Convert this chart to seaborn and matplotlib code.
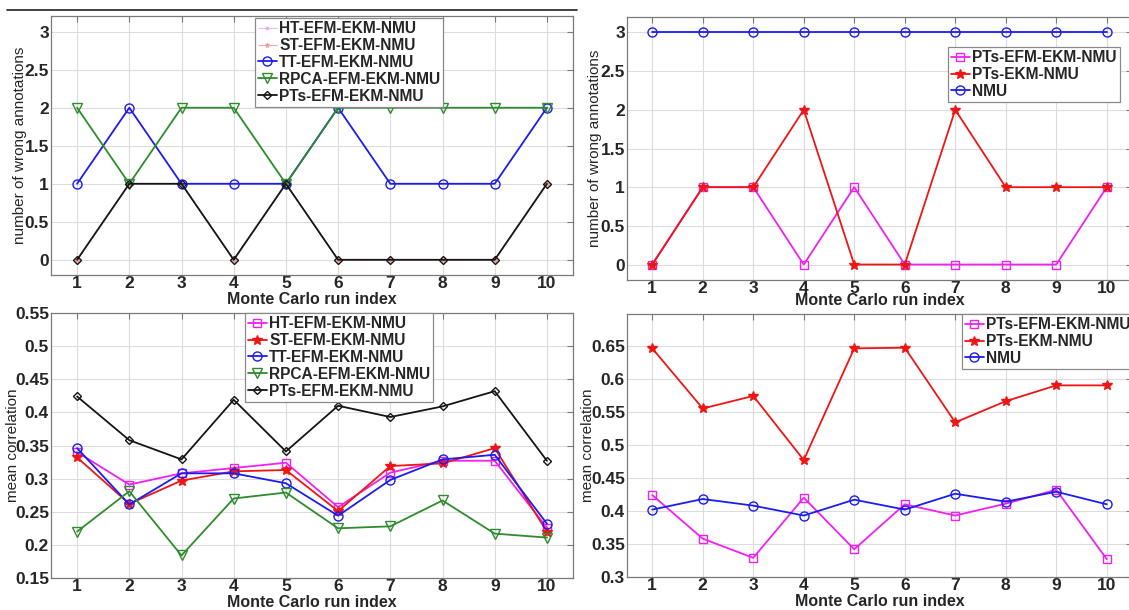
import matplotlib
matplotlib.use("Agg")
import matplotlib.pyplot as plt
import seaborn as sns
from matplotlib.ticker import FixedLocator, FormatStrFormatter
from matplotlib.lines import Line2D

# ---------------- data ----------------
runs = [1, 2, 3, 4, 5, 6, 7, 8, 9, 10]

# top-left: number of wrong annotations
wrong_ht = [0, 1, 1, 0, 1, 0, 0, 0, 0, 1]
wrong_st = [0, 1, 1, 0, 1, 0, 0, 0, 0, 1]
wrong_tt = [1, 2, 1, 1, 1, 2, 1, 1, 1, 2]
wrong_rpca = [2, 1, 2, 2, 1, 2, 2, 2, 2, 2]
wrong_pts_efm = [0, 1, 1, 0, 1, 0, 0, 0, 0, 1]

# top-right: number of wrong annotations
wrong2_pts_efm = [0, 1, 1, 0, 1, 0, 0, 0, 0, 1]
wrong2_pts_ekm = [0, 1, 1, 2, 0, 0, 2, 1, 1, 1]
wrong2_nmu = [3, 3, 3, 3, 3, 3, 3, 3, 3, 3]

# bottom-left: mean correlation
corr_ht = [0.340, 0.291, 0.308, 0.316, 0.324, 0.257, 0.309, 0.327, 0.327, 0.226]
corr_st = [0.332, 0.262, 0.297, 0.311, 0.313, 0.251, 0.319, 0.323, 0.346, 0.220]
corr_tt = [0.346, 0.261, 0.308, 0.308, 0.293, 0.244, 0.298, 0.329, 0.336, 0.232]
corr_rpca = [0.220, 0.281, 0.184, 0.270, 0.279, 0.225, 0.228, 0.267, 0.217, 0.211]
corr_pts_efm = [0.424, 0.358, 0.329, 0.419, 0.341, 0.410, 0.393, 0.409, 0.432, 0.327]

# bottom-right: mean correlation
corr2_pts_efm = [0.424, 0.358, 0.329, 0.420, 0.342, 0.410, 0.393, 0.411, 0.432, 0.327]
corr2_pts_ekm = [0.646, 0.555, 0.574, 0.477, 0.646, 0.647, 0.534, 0.566, 0.590, 0.590]
corr2_nmu = [0.402, 0.418, 0.408, 0.393, 0.417, 0.402, 0.426, 0.414, 0.429, 0.410]

yticks_wrong = [0, 0.5, 1, 1.5, 2, 2.5, 3]
yticks_corr_left = [0.15, 0.2, 0.25, 0.3, 0.35, 0.4, 0.45, 0.5, 0.55]
yticks_corr_right = [0.3, 0.35, 0.4, 0.45, 0.5, 0.55, 0.6, 0.65]

xlabel = "Monte Carlo run index"
ylabel_wrong = "number of wrong annotations"
ylabel_corr = "mean correlation"

# ---------------- style ----------------
sns.set_theme(style="white")
plt.rcParams["font.family"] = ["Liberation Sans", "DejaVu Sans"]

MAG = "#f020f0"
RED = "#ee1515"
BLUE = "#1c1cee"
GREEN = "#2e8b2e"
BLACK = "#151515"
FRAME = "#7a7a7a"

left_styles = {
    "HT-EFM-EKM-NMU": dict(color=MAG, marker="s", ms=5.5, mfc="none"),
    "ST-EFM-EKM-NMU": dict(color=RED, marker="*", ms=7, mfc=RED),
    "TT-EFM-EKM-NMU": dict(color=BLUE, marker="o", ms=6.5, mfc="none"),
    "RPCA-EFM-EKM-NMU": dict(color=GREEN, marker="v", ms=6.5, mfc="none"),
    "PTs-EFM-EKM-NMU": dict(color=BLACK, marker="D", ms=4.5, mfc="none"),
}
right_styles = {
    "PTs-EFM-EKM-NMU": dict(color=MAG, marker="s", ms=5.5, mfc="none"),
    "PTs-EKM-NMU": dict(color=RED, marker="*", ms=7, mfc=RED),
    "NMU": dict(color=BLUE, marker="o", ms=6.5, mfc="none"),
}
faint = {
    "HT-EFM-EKM-NMU": dict(color="#f4a6f4", marker="s", ms=2, mfc="#f4a6f4"),
    "ST-EFM-EKM-NMU": dict(color="#f49a9a", marker="*", ms=3, mfc="#f49a9a"),
}

W, H = 1129, 610
fig = plt.figure(figsize=(W / 100, H / 100), dpi=100)


def px_axes(l, t, r, b):
    return fig.add_axes([l / W, 1 - b / H, (r - l) / W, (b - t) / H])


def draw(ax, series, styles, faint_names=()):
    handles, labels = [], []
    for z, (name, vals) in enumerate(series):
        st = faint[name] if name in faint_names else styles[name]
        lw = 0.6 if name in faint_names else 1.3
        sns.lineplot(x=runs, y=vals, ax=ax, color=st["color"], lw=lw,
                     marker=st["marker"], markersize=st["ms"],
                     markerfacecolor=st["mfc"], markeredgecolor=st["color"],
                     markeredgewidth=1.0, legend=False, errorbar=None,
                     zorder=3 + z)
        line = ax.get_lines()[-1]
        handles.append(line)
        labels.append(name)
    return handles, labels


def style_axes(ax, yticks, ylim, ylab, ylab_x, xlab_y):
    ax.set_xlim(0.5, 10.5)
    ax.set_ylim(*ylim)
    ax.xaxis.set_major_locator(FixedLocator(runs))
    ax.yaxis.set_major_locator(FixedLocator(yticks))
    ax.yaxis.set_major_formatter(FormatStrFormatter("%g"))
    ax.grid(True, color="#dcdcdc", lw=0.8)
    ax.set_axisbelow(True)
    for s in ax.spines.values():
        s.set_color(FRAME)
        s.set_linewidth(0.9)
    ax.tick_params(axis="both", direction="in", length=4, width=0.8,
                   color=FRAME, top=True, right=True, labelsize=12.5)
    ax.tick_params(axis="x", pad=1)
    ax.tick_params(axis="y", pad=1.5)
    for lab in ax.get_xticklabels() + ax.get_yticklabels():
        lab.set_fontweight("bold")
    ax.set_xlabel(xlabel, fontsize=11.5, fontweight="bold")
    ax.set_ylabel(ylab, fontsize=11)
    ax.xaxis.set_label_coords(0.5, xlab_y)
    ax.yaxis.set_label_coords(ylab_x, 0.5)


def add_legend(ax, handles, labels, x, y):
    leg = ax.legend(handles, labels, loc="upper left",
                    bbox_to_anchor=(x / W, 1 - y / H),
                    bbox_transform=fig.transFigure, borderaxespad=0,
                    prop=dict(weight="bold", size=11.2),
                    handlelength=1.2, handletextpad=0.15, borderpad=0.2,
                    labelspacing=0.12, fancybox=False, framealpha=1,
                    edgecolor="#8a8a8a")
    leg.get_frame().set_linewidth(0.9)
    leg.set_zorder(20)
    return leg


# ---------------- top-left ----------------
ax1 = px_axes(51, 16.5, 573, 275)
h, l = draw(ax1, [("HT-EFM-EKM-NMU", wrong_ht), ("ST-EFM-EKM-NMU", wrong_st),
                  ("TT-EFM-EKM-NMU", wrong_tt), ("RPCA-EFM-EKM-NMU", wrong_rpca),
                  ("PTs-EFM-EKM-NMU", wrong_pts_efm)], left_styles,
            faint_names=("HT-EFM-EKM-NMU", "ST-EFM-EKM-NMU"))
style_axes(ax1, yticks_wrong, (-0.2, 3.2), ylabel_wrong, -0.046, -0.066)
add_legend(ax1, h, l, 255, 18)

# ---------------- top-right ----------------
ax2 = px_axes(627, 17, 1132, 280)
h, l = draw(ax2, [("PTs-EFM-EKM-NMU", wrong2_pts_efm), ("PTs-EKM-NMU", wrong2_pts_ekm),
                  ("NMU", wrong2_nmu)], right_styles)
style_axes(ax2, yticks_wrong, (-0.2, 3.2), ylabel_wrong, -0.050, -0.048)
add_legend(ax2, h, l, 948, 47)

# ---------------- bottom-left ----------------
ax3 = px_axes(51, 313, 573, 578)
h, l = draw(ax3, [("HT-EFM-EKM-NMU", corr_ht), ("ST-EFM-EKM-NMU", corr_st),
                  ("TT-EFM-EKM-NMU", corr_tt), ("RPCA-EFM-EKM-NMU", corr_rpca),
                  ("PTs-EFM-EKM-NMU", corr_pts_efm)], left_styles)
style_axes(ax3, yticks_corr_left, (0.15, 0.55), ylabel_corr, -0.059, -0.063)
add_legend(ax3, h, l, 245, 313)

# ---------------- bottom-right ----------------
ax4 = px_axes(627, 314, 1132, 577)
h, l = draw(ax4, [("PTs-EFM-EKM-NMU", corr2_pts_efm), ("PTs-EKM-NMU", corr2_pts_ekm),
                  ("NMU", corr2_nmu)], right_styles)
style_axes(ax4, yticks_corr_right, (0.3, 0.698), ylabel_corr, -0.063, -0.063)
add_legend(ax4, h, l, 962, 314)

# thin rule at the very top
fig.add_artist(Line2D([7 / W, 577 / W], [1 - 10 / H, 1 - 10 / H],
                      transform=fig.transFigure, color="#333333", lw=1.3))

fig.savefig("out.png", dpi=100)
